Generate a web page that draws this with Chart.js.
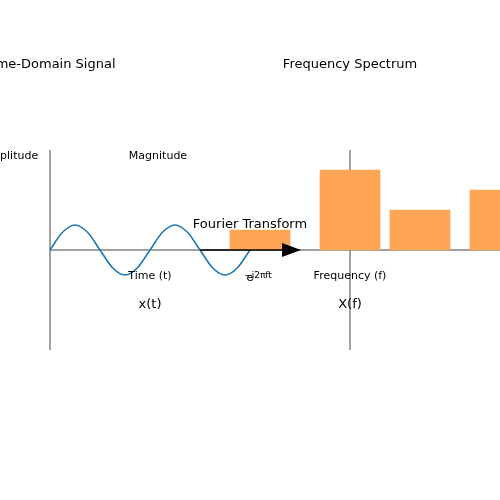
<!DOCTYPE html>
<html><head><meta charset="utf-8">
<script src="https://cdn.jsdelivr.net/npm/chart.js@4"></script>
<style>html,body{margin:0;padding:0;background:#fff}#wrap{width:500px;height:500px}</style>
</head><body><div id="wrap"><canvas id="c"></canvas></div>
<script>
const waveX = [50,62.5,75,87.5,100,112.5,125,137.5,150,162.5,175,187.5,200,212.5,225,237.5,250];
const waveY = [0,17.7,25,17.7,0,-17.7,-25,-17.7,0,17.7,25,17.7,0,-17.7,-25,-17.7,0];
const barX = [260,350,420,500];
const barY = [20,80,40,60];
const texts = [
  ["Time-Domain Signal",50,65,13],["Frequency Spectrum",350,65,13],
  ["Amplitude",10,156,11],["Magnitude",158,156,11],
  ["Fourier Transform",250,225,13],["Time (t)",150,276,11],
  ["Frequency (f)",350,276,11],["x(t)",150,305,13],["X(f)",350,305,13]
];
const axisCol = '#444';
const overlay = {
  id:'overlay',
  afterDatasetsDraw(chart){
    const {ctx,scales:{x,y}} = chart;
    ctx.save();
    ctx.strokeStyle='#000'; ctx.lineWidth=1.5;
    ctx.beginPath(); ctx.moveTo(x.getPixelForValue(200),y.getPixelForValue(0));
    ctx.lineTo(x.getPixelForValue(283),y.getPixelForValue(0)); ctx.stroke();
    ctx.fillStyle='#000'; ctx.beginPath();
    ctx.moveTo(x.getPixelForValue(301),y.getPixelForValue(0));
    ctx.lineTo(x.getPixelForValue(282),y.getPixelForValue(7));
    ctx.lineTo(x.getPixelForValue(282),y.getPixelForValue(-7));
    ctx.closePath(); ctx.fill();
    ctx.textAlign='center'; ctx.textBaseline='middle';
    for(const [t,tx,ty,fs] of texts){
      ctx.font=fs+'px "DejaVu Sans"';
      ctx.fillText(t,x.getPixelForValue(tx),y.getPixelForValue(250-ty));
    }
    ctx.font='11px "DejaVu Sans"';
    ctx.fillText('e',x.getPixelForValue(250),y.getPixelForValue(-28));
    ctx.font='9px "DejaVu Sans"';
    ctx.fillText('\u2212j2\u03c0ft',x.getPixelForValue(258),y.getPixelForValue(-26));
    ctx.restore();
  }
};
new Chart(document.getElementById('c'),{
  data:{datasets:[
    {type:'line',data:[{x:50,y:-100},{x:50,y:100}],borderColor:axisCol,borderWidth:1,pointRadius:0,order:5},
    {type:'line',data:[{x:350,y:-100},{x:350,y:100}],borderColor:axisCol,borderWidth:1,pointRadius:0,order:5},
    {type:'line',data:[{x:50,y:0},{x:500,y:0}],borderColor:axisCol,borderWidth:1,pointRadius:0,order:5},
    {type:'bar',data:barX.map((v,i)=>({x:v,y:barY[i]})),backgroundColor:'#ffa556',barThickness:60,order:3},
    {type:'line',data:waveX.map((v,i)=>({x:v,y:waveY[i]})),borderColor:'#1f77b4',borderWidth:1.6,pointRadius:0,cubicInterpolationMode:'monotone',order:1}
  ]},
  options:{responsive:true,maintainAspectRatio:false,animation:false,
    layout:{padding:0},
    plugins:{legend:{display:false},tooltip:{enabled:false}},
    scales:{x:{type:'linear',min:0,max:500,offset:false,display:false},y:{min:-250,max:250,display:false}}},
  plugins:[overlay]
});
</script></body></html>
